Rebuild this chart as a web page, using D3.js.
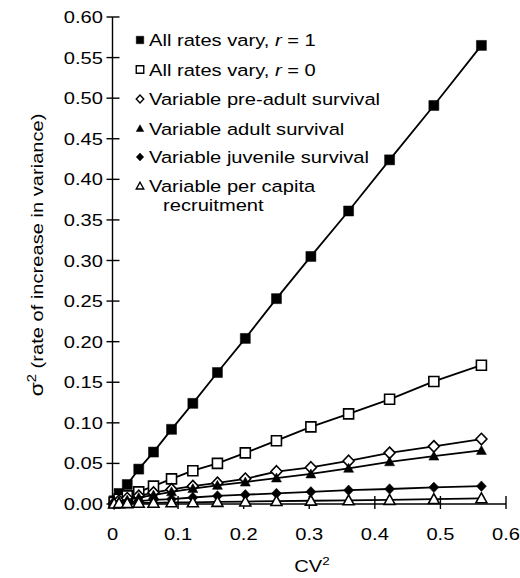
<!DOCTYPE html>
<html>
<head>
<meta charset="utf-8">
<script src="https://cdn.jsdelivr.net/npm/d3@7"></script>
<style>
  html, body { margin: 0; padding: 0; background: #fff; }
  svg text { font-family: "Liberation Sans", Arial, sans-serif; fill: #000; }
</style>
</head>
<body>
<svg id="chart" width="520" height="578"></svg>
<script>
// CV^2 values (x) shared by all series
const cv2 = [0.0025, 0.01, 0.0225, 0.04, 0.0625, 0.09, 0.1225, 0.16, 0.2025, 0.25, 0.3025, 0.36, 0.4225, 0.49, 0.5625];

// sigma^2 for each scenario
const allVaryR1 = [0.004, 0.013, 0.024, 0.043, 0.064, 0.092, 0.124, 0.162, 0.204, 0.253, 0.305, 0.361, 0.424, 0.491, 0.565];
const allVaryR0 = [0.002, 0.006, 0.010, 0.015, 0.022, 0.031, 0.041, 0.050, 0.063, 0.078, 0.095, 0.111, 0.129, 0.151, 0.171];
const preAdult  = [0.001, 0.004, 0.007, 0.010, 0.014, 0.018, 0.022, 0.026, 0.031, 0.040, 0.045, 0.053, 0.063, 0.071, 0.080];
const adult     = [0.001, 0.003, 0.005, 0.008, 0.011, 0.015, 0.019, 0.023, 0.027, 0.032, 0.037, 0.044, 0.052, 0.059, 0.066];
const juvenile  = [0.0005, 0.001, 0.002, 0.0035, 0.005, 0.006, 0.008, 0.010, 0.0115, 0.013, 0.015, 0.017, 0.0185, 0.0205, 0.022];
const recruit   = [0.0005, 0.001, 0.001, 0.0015, 0.0015, 0.002, 0.002, 0.0025, 0.003, 0.0035, 0.004, 0.0045, 0.005, 0.006, 0.007];

const xTicks = [0, 0.1, 0.2, 0.3, 0.4, 0.5, 0.6];
const yTicks = [0, 0.05, 0.1, 0.15, 0.2, 0.25, 0.3, 0.35, 0.4, 0.45, 0.5, 0.55, 0.6];

const legendLabels = [
  ["All rates vary, ", "r", " = 1"],
  ["All rates vary, ", "r", " = 0"],
  ["Variable pre-adult survival"],
  ["Variable adult survival"],
  ["Variable juvenile survival"],
  ["Variable per capita"]
];

const series = [
  { values: allVaryR1, shape: "square",   fill: "#000", size: 10 },
  { values: allVaryR0, shape: "square",   fill: "#fff", size: 10 },
  { values: preAdult,  shape: "diamond",  fill: "#fff", size: 11 },
  { values: adult,     shape: "triangle", fill: "#000", size: 10 },
  { values: juvenile,  shape: "diamond",  fill: "#000", size: 10 },
  { values: recruit,   shape: "triangle", fill: "#fff", size: 11 }
];

const svg = d3.select("#chart");
const x = d3.scaleLinear().domain([0, 0.6]).range([112.5, 506]);
const y = d3.scaleLinear().domain([0, 0.6]).range([504, 17]);
const FS = 16.5, SX = 1.22; // text looks horizontally stretched in the original

// marker path centred on 0,0
function markerPath(shape, s) {
  const p = d3.path(), h = s / 2;
  if (shape === "square") { p.rect(-h, -h, s, s); }
  else if (shape === "diamond") { p.moveTo(0, -h * 1.05); p.lineTo(h, 0); p.lineTo(0, h * 1.05); p.lineTo(-h, 0); p.closePath(); }
  else { p.moveTo(0, -h); p.lineTo(h, h * 0.8); p.lineTo(-h, h * 0.8); p.closePath(); }
  return p.toString();
}

function label(g, tx, ty, txt, anchor) {
  return g.append("text")
    .attr("transform", `translate(${tx},${ty}) scale(${SX},1)`)
    .attr("text-anchor", anchor || "start")
    .attr("fill", "#000")
    .style("font-size", FS + "px")
    .text(txt);
}

// axes
const axis = svg.append("g").attr("stroke", "#000").attr("stroke-width", 1.4);
axis.append("line").attr("x1", x(0)).attr("x2", x(0)).attr("y1", y(0)).attr("y2", y(0.6));
axis.append("line").attr("x1", x(0)).attr("x2", x(0.6)).attr("y1", y(0)).attr("y2", y(0));
axis.selectAll(".yt").data(yTicks).enter().append("line")
  .attr("x1", x(0) - 6).attr("x2", x(0) + 7).attr("y1", d => y(d)).attr("y2", d => y(d));
axis.selectAll(".xt").data(xTicks.slice(1)).enter().append("line")
  .attr("x1", d => x(d)).attr("x2", d => x(d)).attr("y1", y(0) - 8).attr("y2", y(0) + 5);

const tl = svg.append("g");
yTicks.forEach(d => label(tl, 103, y(d) + 6, d.toFixed(2), "end"));
xTicks.forEach(d => label(tl, x(d), 540, d === 0 ? "0" : String(d), "middle"));

// axis titles
const xt = svg.append("text").attr("transform", `translate(312,572) scale(${SX},1)`)
  .attr("text-anchor", "middle").attr("fill", "#000").style("font-size", FS + "px");
xt.append("tspan").text("CV");
xt.append("tspan").attr("dy", -7).style("font-size", "11px").text("2");

const yt = svg.append("text").attr("transform", `translate(43,255) rotate(-90) scale(${SX},1)`)
  .attr("text-anchor", "middle").attr("fill", "#000").style("font-size", FS + "px");
yt.append("tspan").style("font-size", "19px").text("σ");
yt.append("tspan").attr("dy", -7).style("font-size", "12px").text("2");
yt.append("tspan").attr("dy", 7).text("  (rate of increase in variance)");

// series: lines then markers
const line = d3.line().x((d, i) => x(cv2[i])).y(d => y(d));
series.forEach(s => {
  const g = svg.append("g");
  g.append("path").datum(s.values).attr("d", line)
    .attr("fill", "none").attr("stroke", "#000").attr("stroke-width", 1.8);
  g.selectAll("path.m").data(s.values).enter().append("path").attr("class", "m")
    .attr("transform", (d, i) => `translate(${x(cv2[i])},${y(d)})`)
    .attr("d", markerPath(s.shape, s.size))
    .attr("fill", s.fill).attr("stroke", "#000").attr("stroke-width", s.fill === "#fff" ? 1.6 : 0.5);
});

// legend
const lg = svg.append("g");
const rowY = [40, 69.5, 99, 128.5, 157, 186];
series.forEach((s, i) => {
  lg.append("path").attr("transform", `translate(140,${rowY[i]})`)
    .attr("d", markerPath(s.shape, 7.5))
    .attr("fill", s.fill).attr("stroke", "#000").attr("stroke-width", s.fill === "#fff" ? 1.4 : 0.5);
  const t = lg.append("text").attr("transform", `translate(149,${rowY[i] + 6}) scale(${SX},1)`)
    .attr("fill", "#000").style("font-size", FS + "px");
  legendLabels[i].forEach((part, k) => {
    t.append("tspan").style("font-style", k === 1 ? "italic" : null).text(part);
  });
});
label(lg, 163, 211, "recruitment");
</script>
</body>
</html>
